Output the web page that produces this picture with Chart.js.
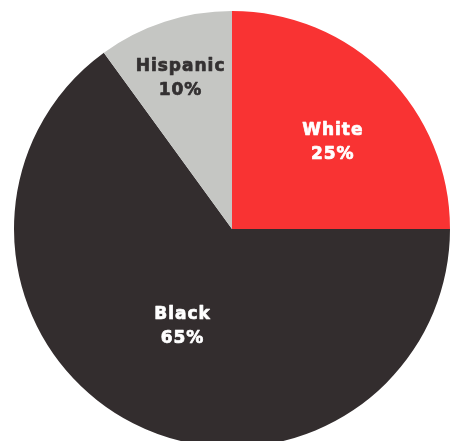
<!DOCTYPE html>
<html>
<head>
<meta charset="utf-8">
<script src="https://cdn.jsdelivr.net/npm/chart.js@4/dist/chart.umd.min.js"></script>
<style>
  html, body { margin: 0; padding: 0; background: #fff; overflow: hidden; }
  body { width: 450px; height: 441px; position: relative; }
  #wrap { position: absolute; left: -8px; top: -11px; width: 480px; height: 480px; }
</style>
</head>
<body>
<div id="wrap"><canvas id="pie"></canvas></div>
<script>
// datos del gráfico
const grupos = ["White", "Black", "Hispanic"];
const porcentajes = [25, 65, 10];
const colores = ["#f93333", "#332d2e", "#c5c6c3"];
const coloresTexto = ["#ffffff", "#ffffff", "#333031"];

// etiquetas dentro de cada porción
const etiquetasPlugin = {
  id: "etiquetas",
  afterDatasetsDraw(chart) {
    const ctx = chart.ctx;
    const meta = chart.getDatasetMeta(0);
    const factor = [0.61, 0.5, 0.73]; // distancia relativa al radio
    const giro = [0.075, 0, -0.015]; // pequeño ajuste de ángulo
    ctx.save();
    ctx.textAlign = "center";
    ctx.textBaseline = "middle";
    ctx.font = "bold 17px 'DejaVu Sans', sans-serif";
    ctx.letterSpacing = "1px";
    ctx.lineWidth = 0.7;
    ctx.lineJoin = "round";
    meta.data.forEach((arc, i) => {
      const p = arc.getProps(["x", "y", "startAngle", "endAngle", "outerRadius"], true);
      const mid = (p.startAngle + p.endAngle) / 2 + giro[i];
      const r = p.outerRadius * factor[i];
      const x = p.x + Math.cos(mid) * r;
      const y = p.y + Math.sin(mid) * r;
      ctx.fillStyle = coloresTexto[i];
      ctx.strokeStyle = coloresTexto[i];
      [grupos[i], porcentajes[i] + "%"].forEach((t, k) => {
        const ty = y + (k === 0 ? -12 : 12);
        ctx.strokeText(t, x, ty);
        ctx.fillText(t, x, ty);
      });
    });
    ctx.restore();
  },
};

new Chart(document.getElementById("pie"), {
  type: "pie",
  data: {
    labels: grupos,
    datasets: [
      {
        data: porcentajes,
        backgroundColor: colores,
        borderWidth: 0,
      },
    ],
  },
  options: {
    responsive: true,
    maintainAspectRatio: false,
    animation: false,
    layout: { padding: 22 },
    plugins: {
      legend: { display: false },
      tooltip: { enabled: false },
    },
  },
  plugins: [etiquetasPlugin],
});
</script>
</body>
</html>
